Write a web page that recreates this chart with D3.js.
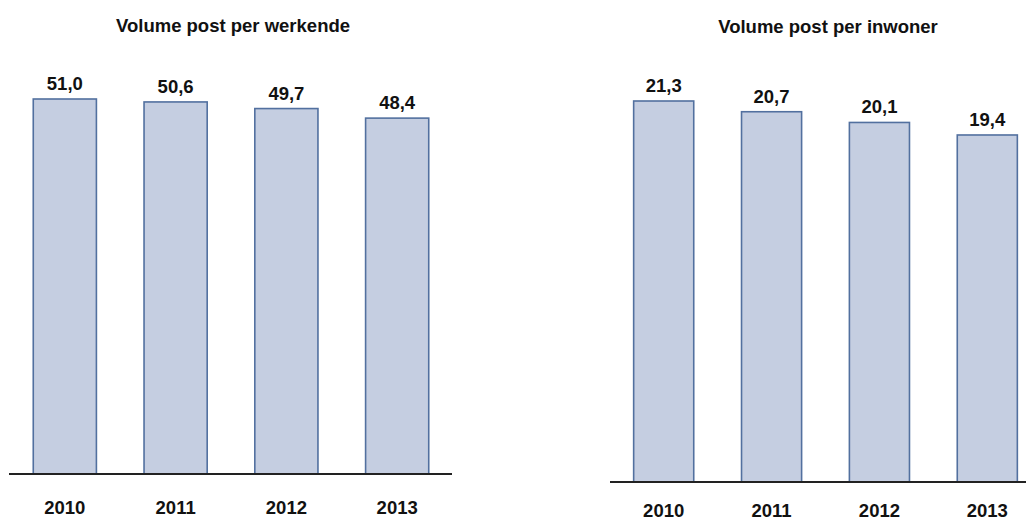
<!DOCTYPE html>
<html>
<head>
<meta charset="utf-8">
<script src="https://cdn.jsdelivr.net/npm/d3@7"></script>
<style>
  body { margin: 0; background: #fff; }
  svg text { font-family: "Liberation Sans", Arial, sans-serif; font-weight: bold; fill: #111; }
</style>
</head>
<body>
<div id="chart"></div>
<script>
// Data
const years = ["2010", "2011", "2012", "2013"];
const perWerkende = [51.0, 50.6, 49.7, 48.4];
const perInwoner = [21.3, 20.7, 20.1, 19.4];
const titles = ["Volume post per werkende", "Volume post per inwoner"];

const W = 1026, H = 523;

const svg = d3.select("#chart")
    .append("svg")
    .attr("width", W)
    .attr("height", H);

// panel layout
const panels = [
    {title: titles[0], values: perWerkende, x0: 10, x1: 452, base: 474, yMax: 51.0, top: 99, titleX: 233, titleY: 32, yearY: 514, padIn: 0.43},
    {title: titles[1], values: perInwoner, x0: 611, x1: 1040, base: 482, yMax: 21.3, top: 101, titleX: 828, titleY: 33, yearY: 517, padIn: 0.443}
];

const fmt = v => d3.format(".1f")(v).replace(".", ",");

panels.forEach(p => {
    const g = svg.append("g");

    const x = d3.scaleBand()
        .domain(years)
        .range([p.x0, p.x1])
        .paddingInner(p.padIn)
        .paddingOuter(0.21);

    const y = d3.scaleLinear()
        .domain([0, p.yMax])
        .range([p.base, p.top]);

    // title
    g.append("text")
        .attr("x", p.titleX)
        .attr("y", p.titleY)
        .attr("text-anchor", "middle")
        .style("font-size", "18.5px")
        .text(p.title);

    // bars
    g.selectAll(".bar")
        .data(p.values)
        .enter()
        .append("rect")
        .attr("class", "bar")
        .attr("x", (d, i) => x(years[i]))
        .attr("width", x.bandwidth())
        .attr("y", d => y(d))
        .attr("height", d => p.base - y(d))
        .attr("fill", "#c5cee1")
        .attr("stroke", "#52709f")
        .attr("stroke-width", 1.6);

    // value labels
    g.selectAll(".val")
        .data(p.values)
        .enter()
        .append("text")
        .attr("class", "val")
        .attr("x", (d, i) => x(years[i]) + x.bandwidth() / 2)
        .attr("y", d => y(d) - 9)
        .attr("text-anchor", "middle")
        .style("font-size", "18.5px")
        .text(d => fmt(d));

    // baseline axis
    const axis = g.append("g")
        .attr("transform", `translate(0,${p.base})`)
        .call(d3.axisBottom(x).tickSize(0).tickPadding(0));
    axis.select(".domain")
        .attr("d", `M${p.x0 - 1},0H${p.x1}`)
        .attr("stroke", "#222")
        .attr("stroke-width", 1.8);
    axis.selectAll("text")
        .attr("y", p.yearY - p.base)
        .attr("dy", 0)
        .style("font-family", "'Liberation Sans', Arial, sans-serif")
        .style("font-weight", "bold")
        .style("font-size", "18.5px")
        .attr("fill", "#111");
});
</script>
</body>
</html>
